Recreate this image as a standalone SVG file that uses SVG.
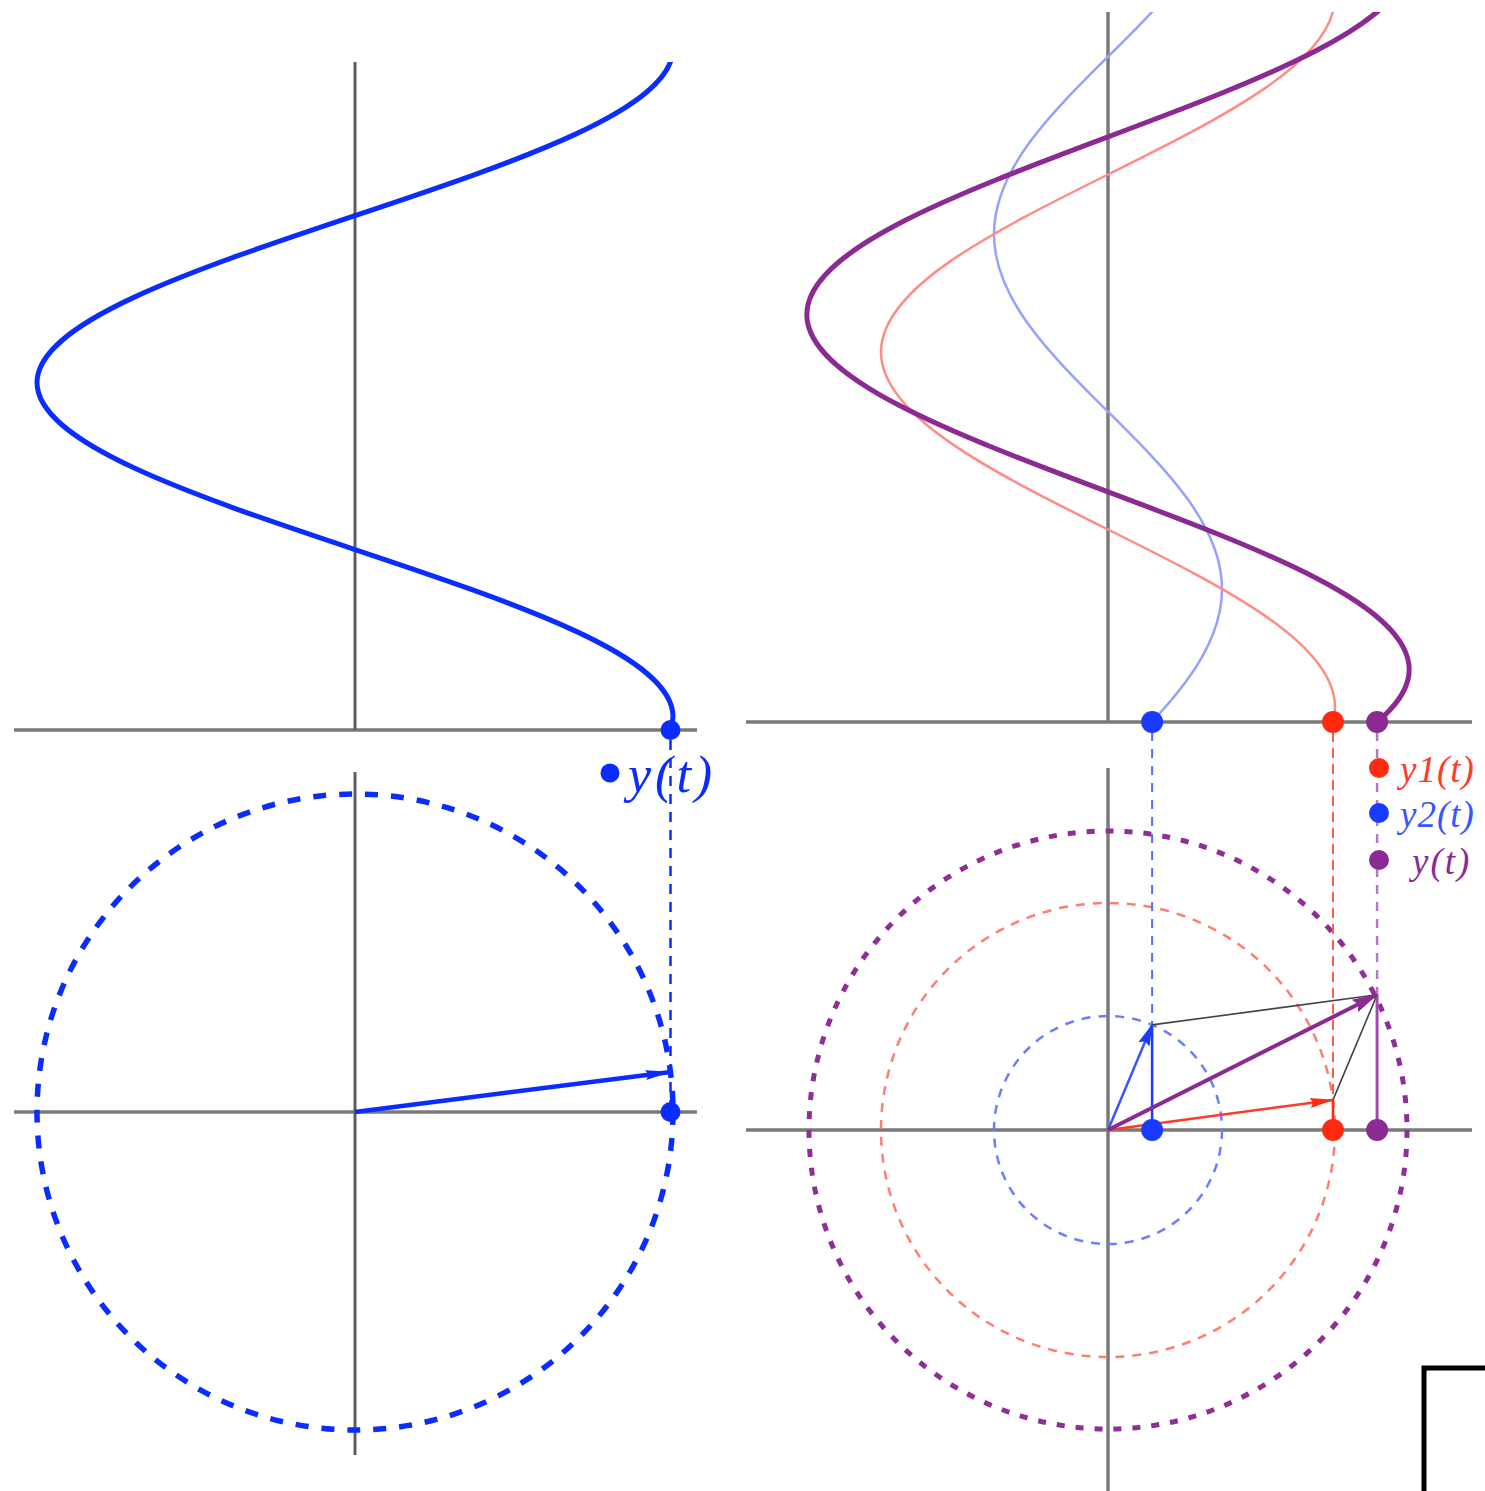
<svg xmlns="http://www.w3.org/2000/svg" xmlns:xlink="http://www.w3.org/1999/xlink" width="1485" height="1491" viewBox="0 0 1485 1491">
<style>
.axis{stroke:#7a7a7a;stroke-width:3.5;fill:none}
.wave{fill:none;stroke-linecap:butt}
.lbl{font-family:"Liberation Serif","DejaVu Serif",serif;font-style:italic}
</style>
<defs>
<path id="wave" vector-effect="non-scaling-stroke" d="M1,-6.2832 c0,0.5685 -0.4877,1.0585 -1,1.5708 c-0.5123,0.5123 -1,1.0023 -1,1.5708 c0,0.5685 0.4877,1.0585 1,1.5708 c0.5123,0.5123 1,1.0023 1,1.5708 c0,0.5685 -0.4877,1.0585 -1,1.5708 c-0.5123,0.5123 -1,1.0023 -1,1.5708 c0,0.5685 0.4877,1.0585 1,1.5708 c0.5123,0.5123 1,1.0023 1,1.5708"/>
<clipPath id="clipL"><rect x="0" y="62" width="740" height="668"/></clipPath>
<clipPath id="clipR"><rect x="740" y="12" width="745" height="710"/></clipPath>
<marker id="ahL" markerUnits="userSpaceOnUse" viewBox="0 0 26 12" refX="25" refY="6" markerWidth="26" markerHeight="12" orient="auto"><path d="M0,1 L26,6 L0,11 L3,6 Z" fill="#0b2cff"/></marker>
<marker id="ahB" markerUnits="userSpaceOnUse" viewBox="0 0 22 14" refX="21" refY="7" markerWidth="22" markerHeight="14" orient="auto"><path d="M0,1 L22,7 L0,13 L3,7 Z" fill="#1a3aff"/></marker>
<marker id="ahR" markerUnits="userSpaceOnUse" viewBox="0 0 24 12" refX="23" refY="6" markerWidth="24" markerHeight="12" orient="auto"><path d="M0,1 L24,6 L0,11 L3,6 Z" fill="#ff2a10"/></marker>
<marker id="ahP" markerUnits="userSpaceOnUse" viewBox="0 0 26 16" refX="25" refY="8" markerWidth="26" markerHeight="16" orient="auto"><path d="M0,1 L26,8 L0,15 L4,8 Z" fill="#8a2a92"/></marker>
</defs>

<g id="axes">
<line class="axis" x1="14" y1="730" x2="697" y2="730"/>
<line class="axis" x1="355" y1="62" x2="355" y2="730" style="stroke:#5e5e5e;stroke-width:3"/>
<line class="axis" x1="14" y1="1112" x2="697" y2="1112"/>
<line class="axis" x1="355" y1="772" x2="355" y2="1455" style="stroke:#5e5e5e;stroke-width:3"/>
<line class="axis" x1="746" y1="722" x2="1472" y2="722"/>
<line class="axis" x1="1108" y1="12" x2="1108" y2="722"/>
<line class="axis" x1="746" y1="1130" x2="1472" y2="1130"/>
<line class="axis" x1="1108" y1="768" x2="1108" y2="1491"/>
</g>

<g id="left-wave" clip-path="url(#clipL)">
<use href="#wave" class="wave" stroke="#0b2cff" stroke-width="5" transform="translate(355,716.6) scale(318,106.31)"/>
</g>

<g id="right-waves" clip-path="url(#clipR)">
<use href="#wave" class="wave" stroke="#98a0ff" stroke-width="2.5" transform="translate(1108,589.2) scale(114,113)"/>
<use href="#wave" class="wave" stroke="#ff8c84" stroke-width="2.5" transform="translate(1108,707) scale(227,113)"/>
<use href="#wave" class="wave" stroke="#8a2a92" stroke-width="5" transform="translate(1108,669.4) scale(301.2,113)"/>
</g>

<g id="left-circle">
<circle cx="355" cy="1112" r="318" fill="none" stroke="#0b2cff" stroke-width="5.5" stroke-dasharray="13 13"/>
</g>

<g id="right-circles">
<circle cx="1108" cy="1130" r="114" fill="none" stroke="#6f7cff" stroke-width="2.5" stroke-dasharray="9 8"/>
<circle cx="1108" cy="1130" r="227" fill="none" stroke="#ff7d72" stroke-width="2.5" stroke-dasharray="9 8"/>
<circle cx="1108" cy="1130" r="299" fill="none" stroke="#8e2e96" stroke-width="5" stroke-dasharray="8 11"/>
</g>

<g id="connectors">
<line x1="670.5" y1="740" x2="670.5" y2="1105" stroke="#0b2cff" stroke-width="2.5" stroke-dasharray="10 8"/>
<line x1="355" y1="1112" x2="670.5" y2="1072" stroke="#0b2cff" stroke-width="4.5" marker-end="url(#ahL)"/>

<line x1="1152.1" y1="732" x2="1152.1" y2="1025" stroke="#5a6aff" stroke-width="2" stroke-dasharray="9 8"/>
<line x1="1333" y1="732" x2="1333" y2="1100" stroke="#ff5a4a" stroke-width="2" stroke-dasharray="10 6"/>
<line x1="1377.1" y1="732" x2="1377.1" y2="995" stroke="#b27ac0" stroke-width="2.5" stroke-dasharray="9 8"/>

<line x1="1152.1" y1="1024.9" x2="1377.1" y2="994.8" stroke="#444" stroke-width="1.6"/>
<line x1="1333" y1="1099.9" x2="1377.1" y2="994.8" stroke="#444" stroke-width="1.6"/>

<line x1="1152.1" y1="1024.9" x2="1152.1" y2="1130" stroke="#1a3aff" stroke-width="2.5"/>
<line x1="1333" y1="1099.9" x2="1333" y2="1130" stroke="#ff2a10" stroke-width="2.5"/>
<line x1="1377.1" y1="994.8" x2="1377.1" y2="1130" stroke="#a04aae" stroke-width="3"/>

<line x1="1108" y1="1130" x2="1152.1" y2="1024.9" stroke="#3a55ff" stroke-width="2.5" marker-end="url(#ahB)"/>
<line x1="1108" y1="1130" x2="1333" y2="1099.9" stroke="#ff3a2a" stroke-width="2.5" marker-end="url(#ahR)"/>
<line x1="1108" y1="1130" x2="1377.1" y2="994.8" stroke="#8a2a92" stroke-width="4" marker-end="url(#ahP)"/>
</g>

<g id="points">
<circle cx="670.5" cy="730" r="10" fill="#0b2cff"/>
<circle cx="670.5" cy="1112" r="10" fill="#0b2cff"/>
<circle cx="1152.1" cy="722" r="11" fill="#1a3aff"/>
<circle cx="1333" cy="722" r="11" fill="#ff2a10"/>
<circle cx="1377.1" cy="722" r="11" fill="#8a2a92"/>
<circle cx="1152.1" cy="1130" r="11" fill="#1a3aff"/>
<circle cx="1333" cy="1130" r="11" fill="#ff2a10"/>
<circle cx="1377.1" cy="1130" r="11" fill="#8a2a92"/>
</g>

<g id="legend-left">
<circle cx="610" cy="773" r="9.5" fill="#0b2cff"/>
<text class="lbl" x="628" y="792" font-size="52" fill="#0b2cff" letter-spacing="4">y(t)</text>
</g>

<g id="legend-right">
<circle cx="1379" cy="768" r="10" fill="#ff2a10"/>
<text class="lbl" x="1400" y="782" font-size="37" fill="#ff3a2a" letter-spacing="1">y1(t)</text>
<circle cx="1379" cy="813" r="10" fill="#1a3aff"/>
<text class="lbl" x="1400" y="827" font-size="37" fill="#3a55ff" letter-spacing="1">y2(t)</text>
<circle cx="1379" cy="860" r="10" fill="#8a2a92"/>
<text class="lbl" x="1412" y="874" font-size="37" fill="#8a2a92" letter-spacing="2">y(t)</text>
</g>

<g id="corner-box">
<rect x="1424" y="1368" width="120" height="160" fill="#fff" stroke="#000" stroke-width="5"/>
</g>
</svg>
